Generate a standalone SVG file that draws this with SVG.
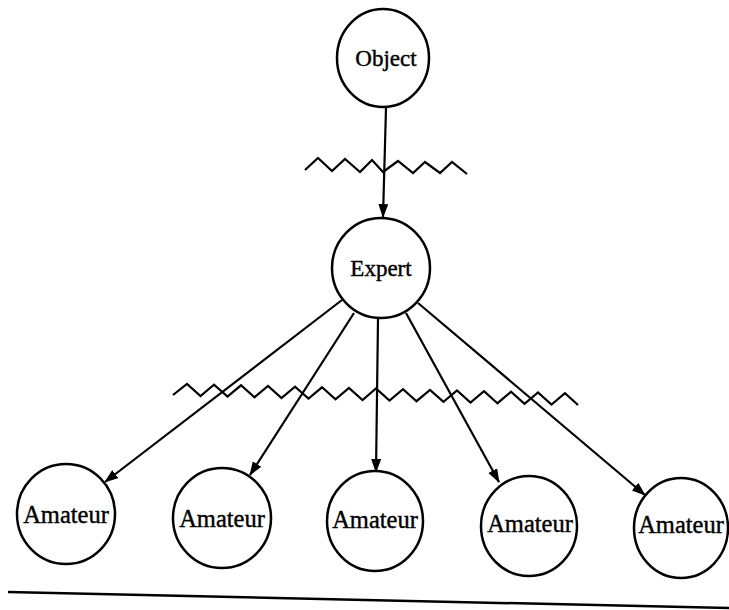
<svg xmlns="http://www.w3.org/2000/svg" width="729" height="610" viewBox="0 0 729 610">
<style>
.node{fill:#fff;stroke:#000;stroke-width:2.5}
.lbl{font-family:"Liberation Serif","Times New Roman",serif;font-size:23px;fill:#000;stroke:#000;stroke-width:0.4;text-anchor:middle}
.am{font-size:24.5px}
.edge{stroke:#000;stroke-width:2.2;fill:none;marker-end:url(#ah)}
.wave{stroke:#000;stroke-width:2.2;fill:none;stroke-linejoin:miter}
</style>
<defs>
<marker id="ah" markerUnits="userSpaceOnUse" markerWidth="14" markerHeight="12" refX="13" refY="5" orient="auto">
<path d="M0,0 L14,5 L0,10 Z" fill="#000"/>
</marker>
</defs>
<rect width="729" height="610" fill="#fff"/>
<g id="connectors">
<line class="edge" x1="386" y1="108" x2="383" y2="217"/>
<line class="edge" x1="342" y1="300" x2="105" y2="482"/>
<line class="edge" x1="354" y1="313" x2="250" y2="475"/>
<line class="edge" x1="378" y1="319" x2="376" y2="472"/>
<line class="edge" x1="406" y1="313" x2="499" y2="482"/>
<line class="edge" x1="418" y1="303" x2="645" y2="495"/>
</g>
<g id="waves">
<polyline class="wave" points="305,170 318,158 332,171 345,159 360,172 372,160 383,172 398,161 413,173 425,162 440,173 452,162 467,174"/>
<polyline class="wave" points="173,395 187,384 200.5,396 214,384.6 227.5,396.6 241,385.3 254.5,397.3 268,386 281.5,398 295,386.6 308.5,398.6 322,387.3 335.5,399.3 349,388 362.5,400 376,388.5 389.5,400.5 403,389.2 416.5,401.2 430,389.9 443.5,401.9 457,390.5 470.5,402.5 484,391.2 497.5,403.2 511,391.8 524.5,403.8 538,392.5 551.5,404.5 565,393.1 578,405"/>
</g>
<g id="object"><ellipse class="node" cx="383" cy="58" rx="46" ry="49"/><text class="lbl" x="386" y="66">Object</text></g>
<g id="expert"><ellipse class="node" cx="381" cy="268" rx="49" ry="50"/><text class="lbl" x="381" y="276">Expert</text></g>
<g id="amateur1"><ellipse class="node" cx="66" cy="514" rx="49" ry="50"/><text class="lbl am" x="66" y="523">Amateur</text></g>
<g id="amateur2"><ellipse class="node" cx="222" cy="518" rx="49" ry="50"/><text class="lbl am" x="222" y="527">Amateur</text></g>
<g id="amateur3"><ellipse class="node" cx="375" cy="521" rx="48" ry="50"/><text class="lbl am" x="375" y="528">Amateur</text></g>
<g id="amateur4"><ellipse class="node" cx="529" cy="526" rx="48" ry="50"/><text class="lbl am" x="530" y="532">Amateur</text></g>
<g id="amateur5"><ellipse class="node" cx="681" cy="528" rx="47" ry="50"/><text class="lbl am" x="681" y="533">Amateur</text></g>
<line x1="8" y1="592" x2="729" y2="608" stroke="#000" stroke-width="2.5"/>
</svg>
